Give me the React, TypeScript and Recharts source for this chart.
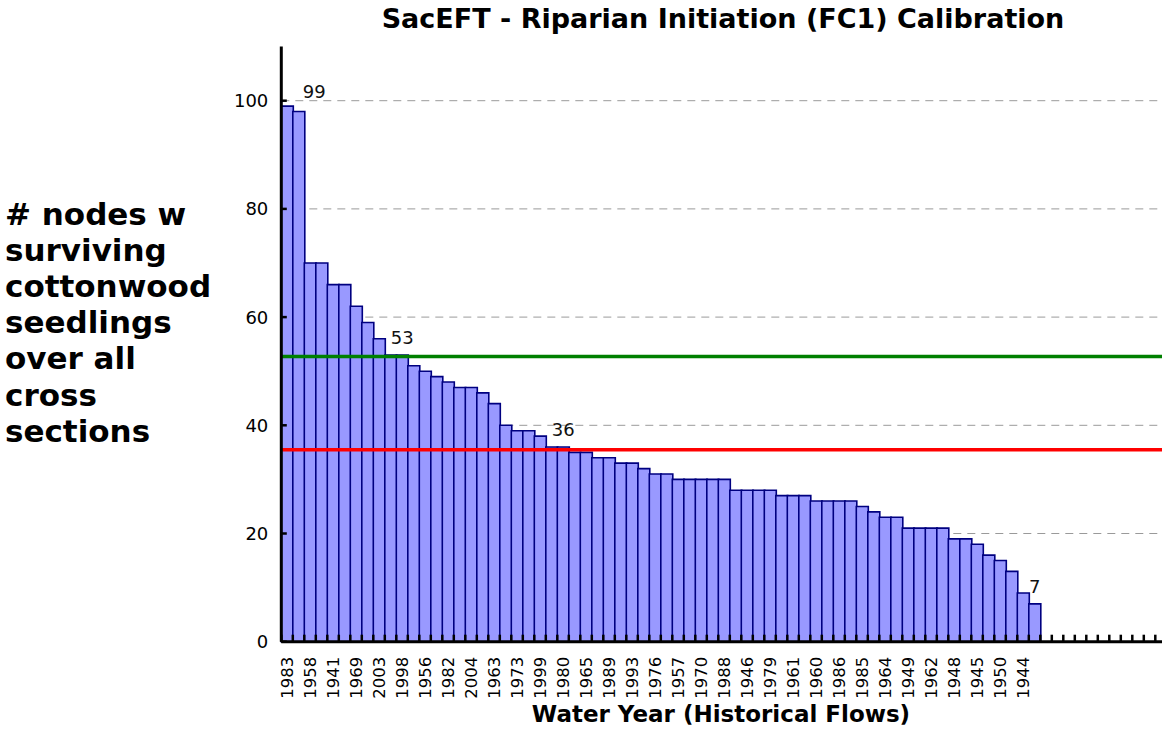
// SacEFT riparian initiation calibration: ranked water years as a bar chart
// with two horizontal reference levels.

import { Bar, BarChart, CartesianGrid, LabelList, ReferenceLine, XAxis, YAxis } from "recharts";

// every other ranked year is labelled on the axis
const YEAR_LABELS = [
  "1983", "1958", "1941", "1969", "2003", "1998", "1956", "1982", "2004", "1963", "1973",
  "1999", "1980", "1965", "1989", "1993", "1976", "1957", "1970", "1988", "1946", "1979",
  "1961", "1960", "1986", "1985", "1964", "1949", "1962", "1948", "1945", "1950", "1944",
];

const NODES = [
  99, 98, 70, 70, 66, 66, 62, 59, 56, 53, 53, 51, 50, 49, 48, 47, 47, 46, 44, 40, 39, 39,
  38, 36, 36, 35, 35, 34, 34, 33, 33, 32, 31, 31, 30, 30, 30, 30, 30, 28, 28, 28, 28, 27,
  27, 27, 26, 26, 26, 26, 25, 24, 23, 23, 21, 21, 21, 21, 19, 19, 18, 16, 15, 13, 9, 7,
];

const EMPTY_SLOTS = 14; // unused categories to the right
const LABELLED = [0, 10, 24, 65];
const UPPER_LEVEL = 52.7;
const LOWER_LEVEL = 35.5;
const Y_TICKS = [0, 20, 40, 60, 80, 100];
const GRID_VALUES = [20, 40, 60, 80, 100];

const data = Array.from({ length: NODES.length + EMPTY_SLOTS }, (_, i) => ({
  slot: i,
  year: i % 2 === 0 ? YEAR_LABELS[i / 2] ?? "" : "",
  nodes: NODES[i] ?? null,
  tag: LABELLED.includes(i) ? NODES[i] : null,
}));

const FONT = "'DejaVu Sans', Verdana, sans-serif";
const BAND = 11.5;
const LEFT = 281.3;
const PLOT_W = data.length * BAND;
const CHART_W = Math.ceil(LEFT + PLOT_W + 4);

function XTick(props: any) {
  const { x, y, payload } = props;
  const half = payload?.offset || BAND / 2;
  const label = data[payload.value]?.year ?? "";
  return (
    <g>
      <line x1={x - half} x2={x - half} y1={y} y2={y - 7} stroke="#000" strokeWidth={2.5} />
      {label && (
        <text
          x={x}
          y={y + 15}
          transform={`rotate(-90, ${x}, ${y + 15})`}
          textAnchor="end"
          dominantBaseline="central"
          fontFamily={FONT}
          fontSize={16.5}
          fill="#000"
        >
          {label}
        </text>
      )}
    </g>
  );
}

function YTick(props: any) {
  const { x, y, payload } = props;
  return (
    <g>
      <line x1={x} x2={x + 5.5} y1={y} y2={y} stroke="#000" strokeWidth={2.5} />
      <text x={x - 13} y={y} textAnchor="end" dominantBaseline="central" fontFamily={FONT} fontSize={18} fill="#000">
        {payload.value}
      </text>
    </g>
  );
}

function BarTag(props: any) {
  const { x, y, width, value, index } = props;
  if (value == null) return null;
  const dx = index === 0 ? 27 : 0;
  return (
    <text
      x={x + width / 2 + dx}
      y={y - (index === 0 ? 8 : 11)}
      textAnchor="middle"
      fontFamily={FONT}
      fontSize={18}
      fill="#111"
    >
      {value}
    </text>
  );
}

const Y_LABEL = ["# nodes w", "surviving", "cottonwood", "seedlings", "over all", "cross", "sections"];

export default function App() {
  return (
    <div style={{ position: "fixed", left: 0, top: 0, width: 1162, height: 751, overflow: "hidden", background: "#fff" }}>
      <BarChart
        width={CHART_W}
        height={751}
        data={data}
        margin={{ top: 46.6, right: CHART_W - LEFT - PLOT_W, bottom: 49.3, left: LEFT - 60 }}
        barCategoryGap={0}
      >
        <CartesianGrid vertical={false} horizontalValues={GRID_VALUES} stroke="#9a9a9a" strokeDasharray="8 6" />
        <XAxis
          dataKey="slot"
          interval={0}
          height={60}
          tickLine={false}
          tickSize={0}
          tickMargin={0}
          axisLine={{ stroke: "#000", strokeWidth: 3 }}
          tick={(p: any) => <XTick {...p} />}
        />
        <YAxis
          width={60}
          domain={[0, 110]}
          ticks={Y_TICKS}
          tickLine={false}
          tickSize={0}
          tickMargin={0}
          axisLine={{ stroke: "#000", strokeWidth: 3 }}
          tick={(p: any) => <YTick {...p} />}
        />
        <Bar dataKey="nodes" fill="#9999ff" stroke="#000080" strokeWidth={1.6} isAnimationActive={false}>
          <LabelList dataKey="tag" content={(p: any) => <BarTag {...p} />} />
        </Bar>
        <ReferenceLine y={UPPER_LEVEL} stroke="#008000" strokeWidth={3.5} />
        <ReferenceLine y={LOWER_LEVEL} stroke="#ff0000" strokeWidth={3.5} />
      </BarChart>

      <svg width={1162} height={751} style={{ position: "absolute", left: 0, top: 0, pointerEvents: "none" }}>
        <text x={723} y={28} textAnchor="middle" fontFamily={FONT} fontWeight="bold" fontSize={27} fill="#000">
          SacEFT - Riparian Initiation (FC1) Calibration
        </text>
        <text x={721} y={722} textAnchor="middle" fontFamily={FONT} fontWeight="bold" fontSize={23} fill="#000">
          Water Year (Historical Flows)
        </text>
        {Y_LABEL.map((line, i) => (
          <text key={line} x={5} y={225 + i * 36.1} fontFamily={FONT} fontWeight="bold" fontSize={31} fill="#000">
            {line}
          </text>
        ))}
      </svg>
    </div>
  );
}
